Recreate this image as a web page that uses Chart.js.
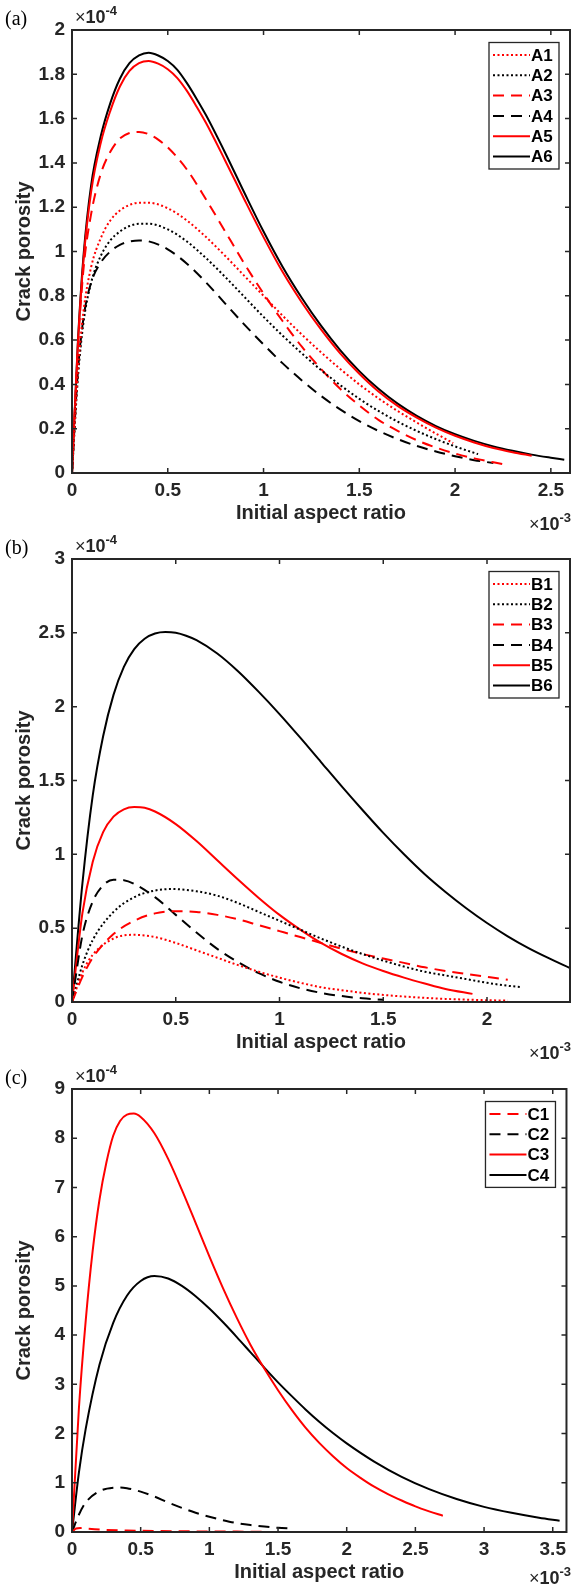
<!DOCTYPE html>
<html><head><meta charset="utf-8">
<script src="https://cdn.jsdelivr.net/npm/chart.js@4.4.1/dist/chart.umd.min.js"></script>
<style>
html,body{margin:0;padding:0;background:#fff;}
#wrap{position:relative;width:572px;height:1587px;overflow:hidden;background:#fff;}
canvas{position:absolute;left:0;display:block;}
</style></head><body>
<div id="wrap">
<canvas id="ca" width="572" height="545" style="top:0px"></canvas>
<canvas id="cb" width="572" height="545" style="top:529px"></canvas>
<canvas id="cc" width="572" height="529" style="top:1058px"></canvas>
</div>
<script>
// ---------- Panel (a): x in 1e-3, y in 1e-4 ----------
const a1X = [0,0.03,0.06,0.1,0.15,0.2,0.25,0.3,0.35,0.4,0.5,0.6,0.7,0.8,0.9,1.0,1.1,1.2,1.3,1.4,1.5,1.6,1.7,1.8,1.9,1.99];
const a1Y = [0,0.45,0.73,0.93,1.06,1.14,1.185,1.21,1.22,1.22,1.195,1.14,1.065,0.98,0.89,0.8,0.71,0.625,0.545,0.47,0.4,0.337,0.28,0.228,0.178,0.135];
const a2X = [0,0.03,0.06,0.1,0.15,0.2,0.25,0.3,0.35,0.4,0.5,0.6,0.7,0.8,0.9,1.0,1.1,1.2,1.3,1.4,1.5,1.6,1.7,1.8,1.9,2.0,2.12];
const a2Y = [0,0.42,0.68,0.86,0.98,1.05,1.09,1.115,1.125,1.125,1.1,1.045,0.97,0.885,0.795,0.705,0.62,0.54,0.465,0.397,0.335,0.28,0.232,0.19,0.153,0.12,0.085];
const a3X = [0,0.03,0.06,0.1,0.15,0.2,0.25,0.3,0.35,0.4,0.45,0.5,0.6,0.7,0.8,0.9,1.0,1.1,1.2,1.3,1.4,1.5,1.6,1.7,1.8,1.9,2.0,2.1,2.25];
const a3Y = [0,0.55,0.92,1.17,1.35,1.45,1.51,1.535,1.54,1.53,1.505,1.47,1.37,1.235,1.09,0.945,0.81,0.685,0.57,0.47,0.38,0.305,0.24,0.19,0.148,0.115,0.088,0.066,0.04];
const a4X = [0,0.03,0.06,0.1,0.15,0.2,0.25,0.3,0.35,0.4,0.5,0.6,0.7,0.8,0.9,1.0,1.1,1.2,1.3,1.4,1.5,1.6,1.7,1.8,1.9,2.0,2.1,2.2];
const a4Y = [0,0.45,0.7,0.86,0.95,1.0,1.03,1.045,1.05,1.046,1.01,0.945,0.86,0.765,0.67,0.58,0.495,0.418,0.348,0.287,0.234,0.19,0.153,0.122,0.097,0.076,0.058,0.045];
const a5X = [0,0.03,0.06,0.1,0.15,0.2,0.25,0.3,0.35,0.4,0.45,0.5,0.55,0.6,0.65,0.7,0.8,0.9,1.0,1.1,1.2,1.3,1.4,1.5,1.6,1.7,1.8,1.9,2.0,2.1,2.2,2.3,2.4];
const a5Y = [0,0.57,0.96,1.27,1.49,1.635,1.745,1.815,1.85,1.86,1.848,1.823,1.783,1.725,1.655,1.58,1.41,1.235,1.065,0.907,0.77,0.648,0.54,0.448,0.368,0.303,0.25,0.205,0.168,0.138,0.113,0.094,0.078];
const a6X = [0,0.03,0.06,0.1,0.15,0.2,0.25,0.3,0.35,0.4,0.45,0.5,0.55,0.6,0.65,0.7,0.8,0.9,1.0,1.1,1.2,1.3,1.4,1.5,1.6,1.7,1.8,1.9,2.0,2.1,2.2,2.3,2.4,2.5,2.57];
const a6Y = [0,0.58,0.98,1.3,1.52,1.67,1.78,1.85,1.885,1.897,1.885,1.86,1.82,1.76,1.69,1.615,1.445,1.265,1.09,0.93,0.79,0.665,0.555,0.46,0.38,0.313,0.258,0.212,0.175,0.145,0.12,0.1,0.083,0.069,0.06];

// ---------- Panel (b) ----------
const b1X = [0,0.05,0.1,0.2,0.3,0.4,0.5,0.6,0.7,0.8,0.9,1.0,1.1,1.2,1.3,1.4,1.5,1.6,1.7,1.8,1.9,2.0,2.1];
const b1Y = [0,0.2,0.32,0.43,0.455,0.44,0.4,0.35,0.3,0.25,0.205,0.165,0.13,0.1,0.08,0.062,0.048,0.037,0.028,0.021,0.016,0.012,0.01];
const b2X = [0,0.05,0.1,0.2,0.3,0.4,0.48,0.6,0.7,0.8,0.9,1.0,1.1,1.2,1.3,1.4,1.5,1.6,1.7,1.8,1.9,2.0,2.1,2.17];
const b2Y = [0,0.25,0.42,0.61,0.71,0.755,0.765,0.75,0.72,0.67,0.61,0.55,0.49,0.43,0.375,0.325,0.28,0.24,0.205,0.18,0.155,0.13,0.11,0.1];
const b3X = [0,0.05,0.1,0.2,0.3,0.4,0.52,0.6,0.7,0.8,0.9,1.0,1.1,1.2,1.3,1.4,1.5,1.6,1.7,1.8,1.9,2.0,2.1];
const b3Y = [0,0.17,0.3,0.46,0.55,0.6,0.615,0.61,0.59,0.56,0.52,0.48,0.44,0.4,0.36,0.325,0.295,0.265,0.235,0.21,0.19,0.17,0.15];
const b4X = [0,0.05,0.1,0.15,0.2,0.25,0.3,0.4,0.5,0.6,0.7,0.8,0.9,1.0,1.1,1.2,1.3,1.4,1.5];
const b4Y = [0,0.45,0.68,0.79,0.828,0.825,0.8,0.71,0.59,0.47,0.36,0.27,0.195,0.137,0.093,0.062,0.04,0.025,0.015];
const b5X = [0,0.05,0.1,0.15,0.2,0.25,0.3,0.35,0.4,0.5,0.6,0.7,0.8,0.9,1.0,1.1,1.2,1.3,1.4,1.5,1.6,1.7,1.8,1.93];
const b5Y = [0,0.6,0.95,1.15,1.255,1.305,1.32,1.315,1.29,1.205,1.09,0.96,0.83,0.705,0.59,0.49,0.4,0.325,0.262,0.21,0.165,0.125,0.088,0.055];
const b6X = [0,0.05,0.1,0.15,0.2,0.25,0.3,0.35,0.4,0.45,0.5,0.55,0.6,0.7,0.8,0.9,1.0,1.1,1.2,1.3,1.4,1.5,1.6,1.7,1.8,1.9,2.0,2.1,2.2,2.3,2.4];
const b6Y = [0,0.8,1.4,1.8,2.08,2.27,2.39,2.46,2.495,2.505,2.5,2.48,2.45,2.36,2.24,2.1,1.95,1.79,1.625,1.46,1.3,1.145,1.0,0.865,0.745,0.635,0.535,0.445,0.365,0.295,0.23];

// ---------- Panel (c) ----------
const c1X = [0,0.03,0.06,0.1,0.2,0.4,0.6,0.8,1.0,1.2,1.4];
const c1Y = [0,0.07,0.08,0.07,0.05,0.03,0.02,0.015,0.01,0.008,0.006];
const c2X = [0,0.05,0.1,0.2,0.3,0.35,0.4,0.5,0.6,0.7,0.8,0.9,1.0,1.1,1.2,1.3,1.4,1.5,1.6];
const c2Y = [0,0.35,0.6,0.83,0.9,0.905,0.89,0.82,0.72,0.6,0.49,0.39,0.31,0.24,0.18,0.14,0.11,0.085,0.07];
const c3X = [0,0.05,0.1,0.15,0.2,0.25,0.3,0.35,0.4,0.45,0.5,0.6,0.7,0.8,0.9,1.0,1.1,1.2,1.3,1.4,1.5,1.6,1.7,1.8,1.9,2.0,2.1,2.2,2.3,2.4,2.5,2.6,2.7];
const c3Y = [0,2.5,4.3,5.7,6.75,7.5,8.05,8.35,8.48,8.5,8.43,8.1,7.58,6.95,6.28,5.6,4.95,4.35,3.8,3.32,2.88,2.48,2.12,1.81,1.54,1.3,1.1,0.92,0.77,0.64,0.52,0.42,0.33];
const c4X = [0,0.05,0.1,0.2,0.3,0.4,0.5,0.6,0.7,0.8,0.9,1.0,1.1,1.2,1.3,1.4,1.5,1.6,1.7,1.8,1.9,2.0,2.2,2.4,2.6,2.8,3.0,3.2,3.4,3.55];
const c4Y = [0,1.2,2.1,3.4,4.25,4.8,5.1,5.2,5.15,5.0,4.79,4.54,4.26,3.96,3.65,3.34,3.04,2.76,2.49,2.24,2.01,1.8,1.43,1.12,0.87,0.67,0.51,0.39,0.29,0.23];

const RED = '#ff0000', BLK = '#000000';
const DOT = [2, 2.5], DASH = [11, 7], SOLID = [];
const INK = '#262626';
const FONT = '"Liberation Sans", Arial, sans-serif';

function pts(xs, ys){ return xs.map((x,i)=>({x:x, y:ys[i]})); }
function fmt(v){ return String(Math.round(v*100)/100); }

const framePlugin = {
  id: 'frame',
  afterDatasetsDraw(chart, args, opts){
    const ctx = chart.ctx, a = chart.chartArea, xs = chart.scales.x, ys = chart.scales.y;
    ctx.save();
    ctx.setLineDash([]);
    ctx.strokeStyle = INK;
    ctx.lineWidth = 1.5;
    ctx.beginPath();
    xs.ticks.forEach(t => {
      const px = xs.getPixelForValue(t.value);
      if (px <= a.left + 1 || px >= a.right - 1) return;
      ctx.moveTo(px, a.bottom); ctx.lineTo(px, a.bottom - 5);
      ctx.moveTo(px, a.top); ctx.lineTo(px, a.top + 5);
    });
    ys.ticks.forEach(t => {
      const py = ys.getPixelForValue(t.value);
      if (py <= a.top + 1 || py >= a.bottom - 1) return;
      ctx.moveTo(a.left, py); ctx.lineTo(a.left + 5, py);
      ctx.moveTo(a.right, py); ctx.lineTo(a.right - 5, py);
    });
    ctx.stroke();
    ctx.lineWidth = 2;
    ctx.strokeRect(a.left, a.top, a.right - a.left, a.bottom - a.top);

    // legend
    const ds = chart.data.datasets;
    const L = a.right - 81, R = a.right - 11, T = a.top + 12.5;
    const rowH = 20.3;
    const H = 12.5 + (ds.length - 1) * rowH + 12.5;
    ctx.fillStyle = '#fff';
    ctx.fillRect(L, T, R - L, H);
    ctx.lineWidth = 1.3;
    ctx.strokeStyle = INK;
    ctx.strokeRect(L, T, R - L, H);
    ctx.font = 'bold 17px ' + FONT;
    ctx.textBaseline = 'middle';
    ctx.textAlign = 'left';
    ds.forEach((d, i) => {
      const cy = T + 12.5 + i * rowH;
      ctx.strokeStyle = d.borderColor;
      ctx.lineWidth = 2;
      ctx.setLineDash(d.borderDash || []);
      ctx.beginPath();
      ctx.moveTo(L + 4, cy); ctx.lineTo(L + 41, cy);
      ctx.stroke();
      ctx.setLineDash([]);
      ctx.fillStyle = '#000';
      ctx.fillText(d.label, L + 42, cy + 1);
    });

    // panel tag
    ctx.fillStyle = '#000';
    ctx.font = '20px "Liberation Serif", "Times New Roman", serif';
    ctx.textAlign = 'left';
    ctx.fillText(opts.tag, 5, a.top - 10);

    // y exponent
    ctx.fillStyle = INK;
    let x0 = a.left + 3;
    ctx.font = '18px ' + FONT;
    ctx.fillText('\u00d7', x0, a.top - 12);
    x0 += ctx.measureText('\u00d7').width;
    ctx.font = 'bold 18px ' + FONT;
    ctx.fillText('10', x0, a.top - 12);
    x0 += ctx.measureText('10').width;
    ctx.font = 'bold 13px ' + FONT;
    ctx.fillText(opts.yExp, x0, a.top - 19);

    // x exponent (right aligned)
    ctx.font = 'bold 13px ' + FONT;
    const wE = ctx.measureText(opts.xExp).width;
    ctx.font = 'bold 18px ' + FONT;
    const w10 = ctx.measureText('10').width;
    ctx.font = '18px ' + FONT;
    const wX = ctx.measureText('\u00d7').width;
    let xr = chart.width - 1 - wE - w10 - wX;
    const yb = a.bottom + opts.xExpOff;
    ctx.fillText('\u00d7', xr, yb);
    xr += wX;
    ctx.font = 'bold 18px ' + FONT;
    ctx.fillText('10', xr, yb);
    xr += w10;
    ctx.font = 'bold 13px ' + FONT;
    ctx.fillText(opts.xExp, xr, yb - 7);
    ctx.restore();
  }
};

const panels = [
  { id:'ca', tag:'(a)', xMax:2.6, yMax:2, yStep:0.2, top:30, xH:72, titlePad:20, xExpOff:52,
    series:[
      ['A1', a1X, a1Y, RED, DOT], ['A2', a2X, a2Y, BLK, DOT],
      ['A3', a3X, a3Y, RED, DASH], ['A4', a4X, a4Y, BLK, DASH],
      ['A5', a5X, a5Y, RED, SOLID], ['A6', a6X, a6Y, BLK, SOLID] ] },
  { id:'cb', tag:'(b)', xMax:2.4, yMax:3, yStep:0.5, top:30, xH:72, titlePad:20, xExpOff:52,
    series:[
      ['B1', b1X, b1Y, RED, DOT], ['B2', b2X, b2Y, BLK, DOT],
      ['B3', b3X, b3Y, RED, DASH], ['B4', b4X, b4Y, BLK, DASH],
      ['B5', b5X, b5Y, RED, SOLID], ['B6', b6X, b6Y, BLK, SOLID] ] },
  { id:'cc', tag:'(c)', xMax:3.6, yMax:9, yStep:1, top:31, xH:55, titlePad:3, xExpOff:47,
    series:[
      ['C1', c1X, c1Y, RED, DASH], ['C2', c2X, c2Y, BLK, DASH],
      ['C3', c3X, c3Y, RED, SOLID], ['C4', c4X, c4Y, BLK, SOLID] ] }
];

panels.forEach(p => {
  new Chart(document.getElementById(p.id), {
    type: 'line',
    data: {
      datasets: p.series.map(s => ({
        label: s[0], data: pts(s[1], s[2]),
        borderColor: s[3], borderDash: s[4], borderWidth: 2,
        pointRadius: 0, fill: false, cubicInterpolationMode: 'monotone',
        borderJoinStyle: 'round'
      }))
    },
    options: {
      responsive: false, animation: false, devicePixelRatio: 1, events: [],
      layout: { padding: { top: p.top, right: 2, left: 0, bottom: 0 } },
      plugins: { legend: { display: false }, tooltip: { enabled: false },
        frame: { tag: p.tag, yExp: '-4', xExp: '-3', xExpOff: p.xExpOff } },
      scales: {
        x: {
          type: 'linear', min: 0, max: p.xMax,
          grid: { display: false, drawTicks: false }, border: { display: false },
          ticks: { stepSize: 0.5, includeBounds: false, padding: 6, color: INK,
            font: { family: FONT, size: 19, weight: 'bold' }, callback: v => fmt(v), maxRotation: 0 },
          title: { display: true, text: 'Initial aspect ratio', color: INK,
            font: { family: FONT, size: 20, weight: 'bold' }, padding: { top: 0, bottom: p.titlePad } },
          afterFit: s => { s.height = p.xH; }
        },
        y: {
          type: 'linear', min: 0, max: p.yMax,
          grid: { display: false, drawTicks: false }, border: { display: false },
          ticks: { stepSize: p.yStep, includeBounds: false, padding: 7, color: INK,
            font: { family: FONT, size: 19, weight: 'bold' }, callback: v => fmt(v) },
          title: { display: true, text: 'Crack porosity', color: INK,
            font: { family: FONT, size: 20, weight: 'bold' }, padding: { top: 12, bottom: 0 } },
          afterFit: s => { s.width = 72; }
        }
      }
    },
    plugins: [framePlugin]
  });
});
</script>
</body></html>
